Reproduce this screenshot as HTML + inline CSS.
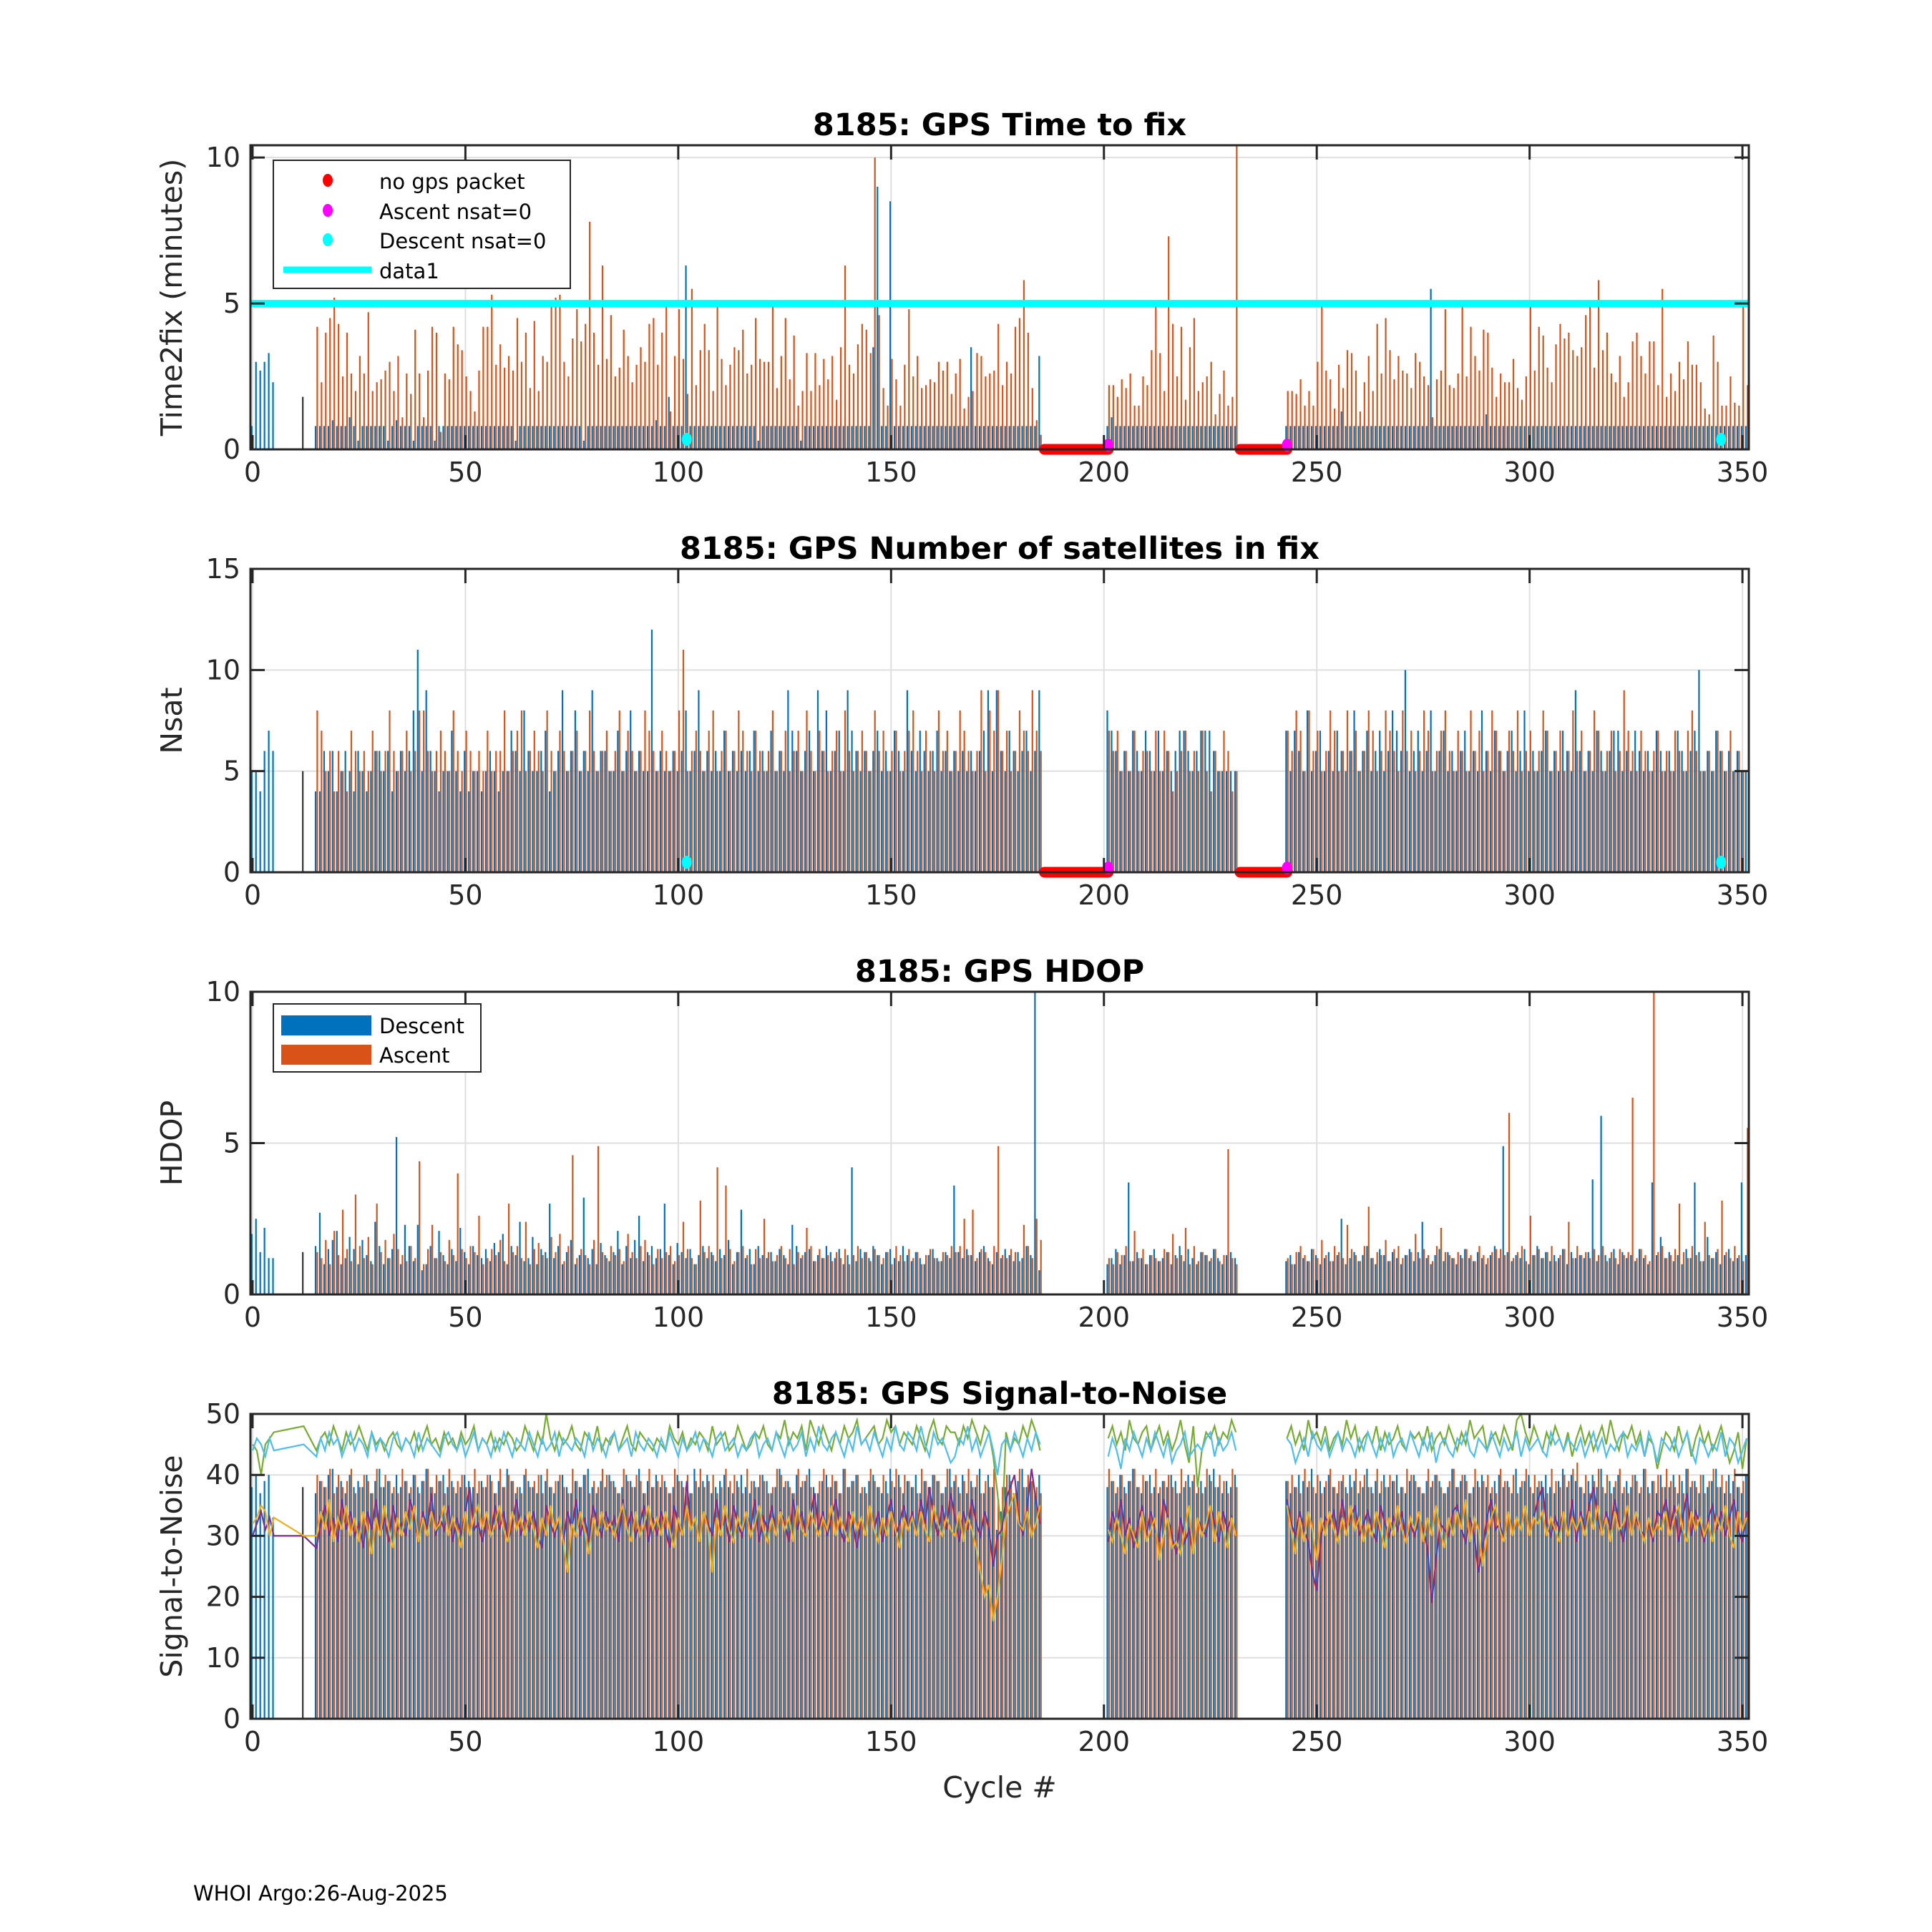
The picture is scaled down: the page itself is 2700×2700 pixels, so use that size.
<!DOCTYPE html>
<html><head><meta charset="utf-8"><style>
html,body{margin:0;padding:0;background:#fff;}
svg{display:block;font-family:"DejaVu Sans","Liberation Sans",sans-serif;}
</style></head><body>
<svg id="chart" width="2700" height="2700" viewBox="0 0 2700 2700" xmlns="http://www.w3.org/2000/svg"></svg>
<script>
// ---------- data ----------
const segments = [[0,5],[12,12],[15,185],[201,231],[243,351]];
const xTicks = [0,50,100,150,200,250,300,350];
const noPacketRanges = [[186,201],[232,243]];
const ascentNsat0 = [201,243];
const descentNsat0 = [102,345];
const t2fTicks = [0,5,10];
const nsatTicks = [0,5,10,15];
const hdopTicks = [0,5,10];
const snrTicks = [0,10,20,30,40,50];
const t2fThreshold = [5];

const t2fDesc = [0.8,3.0,2.7,3.0,3.3,2.3, 1.8,
.8,.8,.8,.8,1.0,.8,.8,.8,1.1,.8, .3,.8,.8,.8,.8,.8,.8,.3,.8,1.0, .8,.8,.8,.3,.8,.8,.8,.8,.3,.8, .8,.8,.8,.8,.8,.8,.8,.8,.8,.8,
.8,.8,.8,.8,.8,.8,.8,.3,.8,.8, .8,.8,.8,.8,.8,.8,.8,.8,.8,.8, .8,.8,.8,.3,.8,.8,.8,.8,.8,.8, .8,.8,.8,.8,.8,.8,.8,.8,.8,.8,
1.0,.8,.8,1.8,.8,.8,.8,6.3,.8,.8, .8,.8,.8,.8,.8,.8,.8,.8,.8,.8, .8,.8,.8,.8,.3,.8,.8,.8,.8,.8, .8,.8,.8,.8,.3,.8,.8,.8,.8,.8,
.8,.8,.8,.8,.8,.8,.8,.8,.8,.8, .8,3.5,9.0,.8,.8,8.5,.8,.8,.8,.8, .8,.8,.8,.8,.8,.8,.8,.8,.8,.8, .8,.8,.8,.8,3.5,.8,.8,.8,.8,.8, .8,.8,.8,.8,.8,.8,.8,.8,.8,.8,3.2,
.8,1.1,.8,.8,.8,.8,.8,.8,.8,.8, .8,.8,.8,.8,.8,.8,.8,.8,.8,.8, .8,.8,.8,.8,.8,.8,.8,.8,.8,.8,.8,
.8,.8,.8,.8,.8,.8,.8,.8,.8,.8, .8,.8,.8,1.3,.8,.8,.8,.8,.8,.8, .8,.8,.8,.8,.8,.8,.8,.8,.8,.8, .8,.8,.8,.8,5.5,.8,.8,.8,.8,.8,
.8,.8,.8,.8,.8,.8,.8,1.2,.8,.8, .8,.8,.8,.8,.8,.8,.8,.8,.8,.8, .8,.8,.8,.8,.8,.8,.8,.8,.8,.8, .8,.8,.8,.8,.8,.8,.8,.8,.8,.8,
.8,.8,.8,.8,.8,.8,.8,.8,.8,.8, .8,.8,.8,.8,.8,.8,.8,.8,.8, .8,.8,.8,.8,.8,.8,.8,.8,.8,.8];
const t2fAsc = [0,0,0,0,0,0, 0,
4.2,2.3,4.0,4.5,5.2,4.3,2.5,4.0,2.6,2.0, 3.2,2.6,4.7,2.0,2.3,2.4,2.7,3.0,2.0,3.2, 1.1,2.6,1.9,4.1,2.6,1.1,2.7,4.2,4.0,0.6, 2.6,2.4,4.2,3.6,3.4,2.5,2.0,1.3,2.7,4.2,
4.2,5.3,2.9,3.6,2.8,3.2,2.7,4.5,3.0,4.0, 2.1,4.4,2.0,3.2,3.0,4.9,5.2,5.3,3.0,2.5, 3.8,4.8,3.7,4.3,7.8,4.0,2.9,6.3,3.1,4.6, 2.5,2.8,4.1,3.2,2.3,2.9,3.5,3.0,4.3,4.5,
2.9,4.0,5.0,1.3,3.2,4.8,3.1,1.9,5.5,2.2, 3.4,4.3,3.4,2.0,5.0,3.1,2.2,2.9,3.5,3.4, 4.1,2.6,2.9,4.5,3.1,3.0,3.0,4.9,2.1,3.2, 4.5,2.4,3.9,1.5,2.0,3.3,2.0,3.3,2.2,3.1,
2.4,3.2,1.7,3.5,6.3,2.9,2.6,3.6,4.3,4.1, 3.3,10.0,4.6,2.1,1.5,3.1,2.4,1.5,2.9,4.8, 2.5,3.2,2.1,2.2,2.4,2.3,3.0,2.7,3.0,1.9, 2.6,3.1,1.4,1.8,2.0,3.3,3.2,2.5,2.6,2.7, 4.3,2.2,3.0,2.6,4.2,4.5,5.8,4.0,2.1,1.0,0.5,
2.2,2.2,1.8,2.4,2.1,2.6,1.5,1.5,2.5,2.2, 3.4,4.9,3.3,2.0,7.3,4.3,2.5,4.2,1.7,3.5, 4.5,2.0,2.3,2.5,3.0,1.2,1.9,2.7,1.5,1.8,10.4,
2.0,2.0,1.9,2.4,1.5,2.0,1.5,3.0,4.9,2.7, 2.4,1.4,2.9,2.1,3.4,3.3,2.7,1.3,2.3,3.2, 2.0,4.3,2.6,4.5,3.4,2.4,3.2,2.7,2.6,2.1, 3.3,3.0,2.5,2.2,1.1,2.4,2.7,4.8,2.2,2.1,
2.6,5.0,2.5,4.2,3.2,2.7,4.1,4.0,2.8,1.8, 2.6,2.3,2.3,3.1,2.1,1.7,2.5,5.0,2.7,4.2, 3.9,2.8,2.3,3.6,4.3,3.8,4.0,3.4,3.2,3.5, 4.6,5.1,2.8,5.8,3.4,4.0,2.6,2.3,3.2,1.8,
2.3,3.7,4.0,3.2,2.6,3.7,3.7,2.2,5.5,1.8, 2.6,2.0,3.0,2.4,3.7,2.9,2.9,2.3,1.4,1.2, 3.9,3.0,1.5,1.5,2.5,1.6,1.5,5.0,2.2];

const nsatDesc = [5,5,4,6,7,6, 5,
4,4,6,5,6,4,5,6,5,4, 6,5,4,5,6,6,5,6,4,5, 6,5,6,8,11,5,9,6,5,4, 5,5,7,5,4,6,4,5,5,4, 5,6,5,4,5,5,7,6,5,8,
6,5,5,6,7,4,5,6,9,5, 6,8,5,6,5,9,5,6,6,5, 5,7,5,6,8,5,6,5,5,12, 5,6,5,5,6,5,6,8,5,6, 9,5,6,5,6,5,7,5,6,5,
6,5,6,7,5,6,5,7,5,6, 5,9,7,6,5,6,7,5,9,6, 8,5,6,7,5,9,7,6,5,6, 5,6,7,5,6,5,7,6,5,9, 6,5,7,6,5,6,7,5,6,5, 6,5,6,5,6,5,6,7,9,5,9,
6,5,7,6,5,6,7,5,6,9,
8,7,6,5,6,5,7,6,5,7, 6,5,7,5,6,5,6,7,7,6, 5,6,7,7,7,6,5,5,5,5,5,
7,5,7,6,5,8,5,6,7,5, 6,5,7,6,5,6,8,5,6,7, 5,6,7,5,6,8,7,6,10,5, 6,7,5,6,8,5,6,7,5,6, 5,6,7,5,6,5,8,6,5,7,
6,5,6,7,5,6,8,5,6,5, 6,7,5,6,5,7,6,5,9,6, 5,6,5,7,6,5,6,7,7,5, 6,5,7,6,5,6,5,7,6,5, 6,5,7,6,5,6,7,10,5,
6,5,7,6,5,6,5,6,5,5];
const nsatAsc = [0,0,0,0,0,0, 0,
8,7,5,6,4,6,5,4,7,6, 5,6,5,7,6,5,6,8,6,5, 6,7,5,6,8,8,6,5,6,7, 6,5,8,6,5,7,6,5,6,5, 7,5,6,6,8,5,6,7,8,5,
6,7,6,5,8,6,5,7,6,5, 6,7,5,6,8,6,5,6,7,5, 6,8,5,7,6,5,6,8,7,6, 5,7,6,5,6,8,11,5,6,7, 6,5,7,8,5,6,7,5,6,8,
7,6,5,7,6,5,6,8,5,6, 7,5,6,7,5,8,6,5,7,6, 5,6,7,5,8,6,5,6,7,6, 5,8,6,7,5,6,7,5,6,7, 8,6,5,7,6,5,8,6,7,5, 6,8,7,6,5,6,9,5,8,7,9,
6,7,5,6,8,7,6,9,7,6,
7,6,7,5,6,5,7,5,6,6, 5,7,5,7,6,4,5,6,7,5, 6,5,7,5,4,6,5,7,6,4,5,
7,6,8,7,5,8,6,7,5,6, 8,7,5,6,8,6,7,5,6,8, 7,5,6,8,7,6,5,8,6,7, 5,6,8,7,5,6,7,8,6,5, 7,6,5,8,6,7,5,6,8,7,
6,5,7,6,8,5,6,7,5,6, 8,7,5,6,7,5,6,8,6,7, 5,6,8,7,5,6,7,5,6,9, 7,6,5,7,6,5,6,7,5,6, 5,7,6,5,7,8,6,5,5,
6,5,7,6,5,7,5,6,5];

const hdopDesc = [2.0,2.5,1.4,2.2,1.2,1.2, 1.4,
1.6,2.7,1.0,1.5,1.8,2.1,1.0,1.2,1.9,1.5, 1.0,1.8,1.3,1.1,2.4,1.6,1.0,1.2,1.5,5.2, 1.0,2.3,1.6,1.1,2.3,0.8,1.0,1.6,1.2,2.1, 1.3,1.0,1.5,1.1,2.2,1.4,1.0,1.6,1.3,1.2,
1.5,1.1,1.7,1.4,2.0,1.0,1.6,1.3,2.4,1.1, 1.2,1.9,1.0,1.5,1.4,3.0,1.2,1.6,1.0,1.4, 1.8,1.0,1.3,3.2,1.2,1.5,1.0,1.7,1.3,1.1, 1.4,2.1,1.0,1.6,1.2,1.8,2.6,1.1,1.4,1.6,
1.2,1.5,3.0,1.3,1.0,1.7,1.4,1.2,1.5,1.0, 1.3,1.6,1.2,1.4,1.1,1.5,1.3,1.8,1.0,1.4, 2.8,1.2,1.5,1.0,1.6,1.3,1.2,1.4,1.1,1.5, 1.3,1.0,2.3,1.6,1.2,1.4,1.5,1.1,1.3,1.2,
1.6,1.4,1.2,1.5,1.0,1.3,4.2,1.1,1.5,1.4, 1.2,1.6,1.3,1.0,1.4,1.5,1.2,1.1,1.6,1.3, 1.1,1.4,1.2,1.0,1.3,1.5,1.2,1.1,1.4,1.2,
3.6,1.4,1.2,1.5,1.3,1.1,1.4,1.6,1.2,1.0, 1.4,1.2,1.5,1.3,1.1,1.4,1.2,1.6,1.3,10.0,0.8,
1.0,1.2,1.5,1.0,1.3,3.7,1.1,1.4,1.2,1.0, 1.3,1.5,1.1,1.2,1.4,1.0,1.3,1.6,1.1,1.5, 1.2,1.0,1.4,1.3,1.1,1.5,1.2,1.0,1.3,1.4,1.2,
1.1,1.3,1.0,1.4,1.2,1.1,1.5,1.3,1.0,1.2, 1.4,1.1,1.3,2.5,1.0,1.2,1.4,1.1,1.3,1.6, 1.2,1.0,1.5,1.3,1.1,1.4,1.2,1.0,1.3,1.5, 1.1,1.4,2.4,1.2,1.0,1.3,1.5,1.1,1.4,1.2,
1.0,1.3,1.5,1.2,1.1,1.4,1.2,1.0,1.3,1.6, 1.2,4.9,1.4,1.1,1.3,1.2,1.5,1.0,1.3,1.6, 1.2,1.4,1.1,1.3,1.2,1.5,1.0,1.4,1.2,1.3,
1.2,1.4,3.8,1.1,5.9,1.3,1.2,1.5,1.0,1.4, 1.2,1.3,1.1,1.5,1.2,1.0,3.7,1.3,1.9,1.2, 1.4,1.1,1.3,1.0,1.5,1.2,3.7,1.4,1.1,1.9,
1.2,1.4,1.0,1.3,1.5,1.1,1.2,3.7,1.3,1.9];
const hdopAsc = [0,0,0,0,0,0, 0,
1.4,1.2,1.8,1.0,2.1,1.3,2.8,1.5,1.1,3.3, 1.6,1.2,1.9,1.0,3.0,1.4,1.8,1.2,2.0,1.5, 1.3,1.1,1.6,1.2,4.4,1.0,1.5,2.3,1.2,1.4, 1.1,1.8,1.3,4.0,1.5,1.2,1.6,1.4,2.6,1.0,
1.2,1.5,1.3,1.8,1.1,3.0,1.4,1.6,1.2,2.4, 1.0,1.5,1.7,1.3,1.2,1.9,1.4,2.0,1.1,1.6, 4.6,1.2,1.5,1.3,1.0,1.8,4.9,1.4,1.2,1.6, 1.3,1.5,1.1,2.0,1.4,1.2,1.6,1.8,1.3,1.0,
1.5,1.2,1.4,1.6,1.1,1.3,2.4,1.5,1.2,1.0, 3.1,1.4,1.6,1.3,4.2,1.2,3.6,1.5,1.1,1.4, 1.6,1.3,1.0,1.5,1.2,2.5,1.4,1.1,1.3,1.6, 1.2,1.5,1.0,1.4,1.3,2.2,1.6,1.1,1.5,1.2,
1.3,1.1,1.4,1.2,1.5,1.0,1.3,1.6,1.2,1.4, 1.1,1.5,1.3,1.2,1.4,1.0,1.6,1.3,1.1,1.5, 1.2,1.4,1.0,1.3,1.5,1.2,1.1,1.4,1.3,1.6,
1.4,1.6,2.5,1.3,2.8,1.2,1.5,1.4,1.1,1.6, 4.9,1.3,1.2,1.5,1.4,1.1,2.3,1.6,1.2,2.5,1.8,
1.2,1.0,1.4,1.3,1.6,1.1,2.1,1.2,1.5,1.0, 1.3,1.2,1.1,1.5,1.4,2.0,1.2,1.3,2.2,1.0, 1.6,1.1,1.4,1.3,1.2,1.5,1.1,1.3,4.8,1.2,1.0,
1.2,1.0,1.4,1.6,1.3,1.1,1.5,1.2,1.8,1.3, 1.1,1.6,1.4,1.2,2.3,1.5,1.3,1.1,1.6,2.9, 1.2,1.4,1.3,1.8,1.1,1.5,1.6,1.2,1.3,1.4, 2.0,1.2,1.5,1.3,1.1,1.6,2.2,1.4,1.3,1.2,
1.4,1.2,1.5,1.3,1.1,1.6,1.3,1.2,1.4,1.5, 1.5,1.3,6.0,1.2,1.4,1.6,1.1,2.6,1.3,1.5, 1.2,1.4,1.6,1.1,1.3,1.5,2.4,1.2,1.6,1.3,
1.4,1.2,1.5,1.3,1.6,1.1,1.4,1.2,1.5,1.3, 1.4,6.5,1.2,1.5,1.3,1.1,10.0,1.4,1.6,1.2, 1.3,1.5,3.0,1.4,1.2,1.6,1.3,1.1,2.4,1.3,
1.2,1.5,3.1,1.4,1.2,1.6,1.3,1.1,5.5];

const snrDesc = [38,40,37,39,40,33, 38,
37,39,38,40,41,38,39,37,40,38, 39,38,40,37,39,41,38,39,37,40, 38,39,37,40,38,39,41,38,37,39, 40,38,39,37,38,40,39,38,37,39,
38,40,37,39,38,41,39,37,38,40, 39,38,37,40,39,38,37,39,40,38, 37,39,38,40,41,38,37,39,38,40, 39,37,38,40,39,38,41,37,39,38,
40,38,39,37,38,40,39,38,37,41, 38,39,40,37,38,39,40,38,37,39, 40,38,37,39,38,40,39,37,38,41, 38,39,37,40,38,39,41,38,37,39,
40,38,39,37,41,38,39,40,37,38, 39,40,38,37,39,41,38,40,37,39, 38,40,37,39,38,40,39,37,38,41, 39,38,40,37,39,38,41,37,40,38,31,
34,38,40,37,39,41,38,39,37,40, 38,39,37,40,38,39,41,38,37,39, 40,38,37,39,38,40,39,37,38,40,39,
37,39,38,40,41,38,37,39,38,40, 39,37,38,40,39,38,41,37,39,38, 40,38,37,39,38,40,39,37,38,41, 38,39,37,40,38,39,40,38,37,39,
40,38,37,39,38,40,39,37,38,41, 38,39,40,37,38,39,40,38,37,39, 40,38,39,37,41,38,39,40,37,38, 39,40,38,37,39,41,38,40,39,38,
37,39,40,38,41,37,39,38,40,37, 39,38,40,37,41,38,39,37,40,38, 38,40,37,39,41,38,39,37,40,38, 39,41,38,37,40,39,38,37,40,39];
const snrAsc = [0,0,0,0,0,0, 0,
40,39,38,41,37,40,38,39,41,37, 38,40,39,37,41,38,40,39,38,37, 41,39,38,40,37,39,41,38,40,39, 37,41,38,39,40,38,37,41,39,38,
40,39,37,41,38,40,39,38,37,41, 38,39,40,37,41,38,39,40,38,37, 41,39,38,40,37,39,38,41,40,39, 38,37,41,39,38,40,39,37,41,38,
39,40,38,37,41,39,38,40,37,39, 41,38,39,40,37,38,41,39,40,38, 37,41,39,38,40,39,37,38,41,40, 39,38,37,41,39,40,38,37,39,41,
38,40,39,37,41,38,39,40,38,37, 41,39,38,40,37,39,41,38,40,39, 38,37,41,39,38,40,39,37,41,38, 40,37,39,41,38,40,37,39,38,41,36,
38,40,39,37,41,38,40,39,38,37, 41,39,38,40,37,39,41,38,40,39, 37,41,38,39,40,38,37,41,39,38,40,
38,37,41,39,38,40,39,37,41,38, 39,40,38,37,41,39,38,40,37,39, 41,38,39,40,37,38,41,39,40,38, 37,41,39,38,40,39,37,38,41,40,
39,38,37,41,39,40,38,37,39,41, 38,40,39,37,41,38,39,40,38,37, 41,39,38,40,37,39,41,38,40,39, 38,37,41,39,38,40,39,41,42,38,
40,37,39,41,38,40,37,39,41,38, 37,40,39,38,41,37,39,40,38,41, 39,38,40,37,41,39,38,40,37,39, 41,38,40,39,37,41,38,39,40,42];

const snrGreen = [45,44,40,45,46,47, 48,
44,46,47,45,48,46,44,47,45,46, 48,46,44,47,45,46,44,46,47,45, 44,46,45,47,44,46,48,45,46,44, 47,45,46,44,47,45,46,48,44,46,
45,47,44,46,45,47,46,44,45,48, 46,44,47,45,50,46,44,47,45,46, 48,45,44,47,46,45,48,44,46,45, 47,44,46,48,45,44,47,46,45,44,
46,45,44,48,46,45,47,44,46,45, 47,46,44,48,45,46,47,44,45,48, 46,44,45,47,46,48,45,44,47,46, 49,45,47,46,48,44,49,47,45,48,
46,44,47,45,48,46,47,49,45,46, 47,48,45,46,49,47,48,45,47,46, 45,48,46,44,47,49,46,45,48,47, 47,45,48,46,49,47,45,48,47,43,37,
30,47,44,46,45,48,46,49,47,44, 46,48,45,47,44,49,46,45,47,48, 44,46,48,45,47,44,46,49,45,42,48,
38,44,47,46,48,45,47,46,49,47, 46,48,45,47,44,49,46,47,45,48, 44,46,47,45,49,46,48,44,46,47, 45,48,44,47,45,46,48,45,44,47,
46,47,45,48,44,46,47,45,48,46, 44,47,45,49,46,47,48,44,46,47, 45,48,46,44,49,50,47,45,48,46, 44,47,45,48,46,44,47,43,46,48,
45,47,44,46,48,45,49,46,44,47, 46,48,45,47,43,46,45,41,44,47, 46,44,48,45,47,43,46,48,45,47, 44,46,48,45,42,44,47,41,46,45];
const snrBlue = [44,46,45,43,46,44, 45,
43,46,44,47,45,46,43,45,47,44, 46,45,43,47,44,46,45,43,46,47, 44,46,45,43,47,44,46,45,44,43, 46,47,45,44,46,43,45,47,44,46,
45,43,46,44,47,45,43,46,45,44, 47,45,43,46,44,45,47,43,46,45, 44,46,45,43,47,44,46,45,43,46, 47,44,45,46,43,47,45,44,46,45,
43,46,44,47,45,43,46,44,45,47, 44,46,45,43,46,47,44,45,46,43, 45,44,46,47,43,45,46,44,47,45, 43,46,44,45,47,43,46,44,48,45,
44,46,47,45,43,46,44,48,45,46, 44,47,45,43,46,44,48,45,44,47, 46,44,48,45,43,47,45,46,44,42, 43,46,45,48,44,46,43,45,47,44,40,
45,46,44,47,45,43,46,44,47,45, 43,46,44,41,46,44,47,45,43,46, 44,47,45,43,46,42,44,45,47,43,44,
45,44,46,47,43,46,44,45,47,44, 46,45,42,44,46,43,47,45,44,46, 43,45,47,44,46,45,43,46,44,47, 45,43,46,44,47,43,45,46,44,47,
45,43,46,44,47,42,45,46,44,43, 46,45,47,44,43,46,45,44,47,45, 43,46,44,45,47,43,46,44,45, 46,44,43,47,45,46,44,46,45,44,
46,43,45,47,44,46,43,45,44,46, 47,43,45,44,46,43,47,45,42,46,45, 44,46,43,45,47,44,42,46,45,43, 45,44,47,43,46,45,42,44,46,45];
const snrPurple = [30,32,34,31,33,30, 30,
28,32,35,30,33,29,36,31,34,30, 32,28,34,31,36,30,33,29,35,31, 32,30,36,33,29,34,31,37,30,33, 31,35,29,33,30,34,38,31,32,29,
33,30,35,31,34,29,32,36,30,33, 31,34,30,28,35,32,30,33,29,34, 31,36,30,33,29,35,32,30,34,31, 33,29,36,31,34,30,32,35,29,33,
30,34,31,28,35,32,30,39,31,33, 29,34,32,30,36,31,33,29,35,32, 30,34,31,36,29,33,31,35,30,34, 32,29,36,31,34,30,33,37,31,34,
30,33,36,31,29,34,32,28,33,30, 35,31,34,29,33,36,30,32,35,31, 34,30,36,32,38,33,30,35,31,37, 33,29,34,31,36,32,30,34,31,25,30,
31,36,38,40,33,30,35,41,36,32, 29,34,31,36,30,33,28,32,35,30, 34,31,29,36,33,30,27,33,29,31,27,
33,31,30,35,32,29,34,31,33,30, 36,32,30,34,31,29,24,21,30,33, 32,34,30,36,31,33,35,30,32,34, 31,29,35,32,30,33,31,34,29,32,
30,33,31,28,19,26,32,31,30,34, 35,31,29,33,30,24,28,33,36,31, 32,29,34,30,33,31,35,30,33,36, 38,32,30,33,31,34,30,36,29,34,
31,35,38,33,30,34,31,36,32,29, 34,30,33,31,30,32,29,34,33,36, 31,35,29,33,37,30,34,32,29,33, 35,31,34,30,33,36,31,29,34,33];
const snrYellow = [32,33,35,34,30,33, 30,
30,34,31,36,29,33,31,35,30,33, 29,34,31,27,33,30,35,31,28,33, 30,34,31,35,29,33,30,34,31,32, 35,30,33,31,28,34,30,33,35,31,
34,30,32,35,31,29,34,31,33,30, 34,31,28,33,30,35,31,33,29,24, 32,30,34,31,27,33,30,34,31,32, 30,33,35,31,29,34,30,32,35,31,
33,30,34,31,28,33,30,35,31,33, 29,34,31,24,33,30,35,31,29,33, 31,34,30,32,35,31,29,33,30,34, 31,33,29,35,31,30,34,32,30,33,
31,35,30,33,31,29,34,31,33,30, 35,31,29,33,30,34,31,28,33,31, 33,30,34,31,29,35,32,30,33,31, 30,34,29,33,31,28,24,20,22,16,20,
26,33,35,37,32,31,34,30,32,35, 31,29,33,30,27,32,30,28,34,29, 31,33,26,30,33,28,29,27,31,35,27,
33,30,32,35,29,34,31,28,33,30, 35,31,27,33,29,34,31,26,33,30, 34,31,29,33,30,35,31,33,29,32, 30,34,31,28,33,30,35,31,29,33,
31,34,29,33,30,35,31,28,33,30, 34,31,36,29,33,31,25,30,33,35, 31,29,34,30,33,31,35,30,33,32, 34,30,33,31,29,34,30,33,31,33,
30,34,31,35,30,33,29,34,31,32, 35,30,34,31,29,33,30,32,31,34, 30,33,35,31,29,34,31,33,30,32, 29,33,31,35,30,28,34,31,33,30];

// ---------- drawing ----------
const svg = document.getElementById('chart');
const NS = 'http://www.w3.org/2000/svg';
const X0 = 350, X1 = 2444, XMIN = -0.5, XMAX = 351.5;
function xs(v){ return X0 + (v - XMIN) / (XMAX - XMIN) * (X1 - X0); }
const cycles = [];
segments.forEach(s => { for (let c = s[0]; c <= s[1]; c++) cycles.push(c); });

function mk(tag, attrs, parent){
  const e = document.createElementNS(NS, tag);
  for (const k in attrs) e.setAttribute(k, attrs[k]);
  (parent || svg).appendChild(e);
  return e;
}
function txt(parent, x, y, s, size, opts){
  const t = mk('text', Object.assign({x:x, y:y, 'font-size':size, fill:'#262626'}, opts || {}), parent);
  t.textContent = s;
  return t;
}

function panel(cfg){
  const g = mk('g', {});
  
  
  const ys = v => cfg.bot - (v - 0) / cfg.ymax * (cfg.bot - cfg.top);
  const grid = mk('g', {}, g);
  
  
  xTicks.forEach(t => mk('line', {x1:xs(t), x2:xs(t), y1:cfg.top, y2:cfg.bot, stroke:'#dfdfdf', 'stroke-width':2}, grid));
  cfg.yticks.forEach(t => mk('line', {x1:X0, x2:X1, y1:ys(t), y2:ys(t), stroke:'#dfdfdf', 'stroke-width':2}, grid));
  const bars = mk('g', {}, g);
  
  
  cycles.forEach((c, i) => {
    const d = cfg.desc[i], a = cfg.asc[i];
    const dark = (c === 12);
    if (d != null && d > 0) {
      const r = mk('rect', {x:xs(c - 0.2) - 1.1, y:ys(d), width:2.2, height:ys(0) - ys(d), fill: dark ? '#333' : '#0072bd'}, bars);
      
      
    }
    if (a != null && a > 0) {
      const r = mk('rect', {x:xs(c + 0.2) - 1.1, y:ys(a), width:2.2, height:ys(0) - ys(a), fill:'#d95319'}, bars);
      
      
    }
  });
  if (cfg.lines) cfg.lines.forEach(L => {
    let d = '', prev = null;
    cycles.forEach((c, i) => {
      const v = L.vals[i];
      if (v == null) return;
      const cmd = (prev !== null && c - prev <= 7) ? 'L' : 'M';
      d += cmd + xs(c).toFixed(1) + ',' + ys(v).toFixed(1);
      prev = c;
    });
    const p = mk('path', {d:d, fill:'none', stroke:L.color, 'stroke-width':2.2}, g);
    
    
  });
  if (cfg.threshold) {
    const l = mk('line', {x1:X0, x2:X1, y1:ys(t2fThreshold[0]), y2:ys(t2fThreshold[0]), stroke:'#00ffff', 'stroke-width':10}, g);
    
    
  }
  if (cfg.markers) {
    noPacketRanges.forEach(r => {
      const l = mk('line', {x1:xs(r[0]), x2:xs(r[1]), y1:ys(0), y2:ys(0), stroke:'#ff0000', 'stroke-width':15, 'stroke-linecap':'round'}, g);
      
      
    });
    ascentNsat0.forEach(c => {
      const m = mk('ellipse', {cx:xs(c), cy:ys(0) - 6, rx:7, ry:9, fill:'#ff00ff'}, g);
      
      
    });
    descentNsat0.forEach(c => {
      const m = mk('ellipse', {cx:xs(c), cy:ys(0) - 14, rx:7, ry:9, fill:'#00ffff'}, g);
      
      
    });
  }
  const box = mk('rect', {x:X0, y:cfg.top, width:X1 - X0, height:cfg.bot - cfg.top, fill:'none', stroke:'#262626', 'stroke-width':3}, g);
  
  
  xTicks.forEach(t => {
    mk('line', {x1:xs(t), x2:xs(t), y1:cfg.bot, y2:cfg.bot - 20, stroke:'#262626', 'stroke-width':3}, g);
    mk('line', {x1:xs(t), x2:xs(t), y1:cfg.top, y2:cfg.top + 20, stroke:'#262626', 'stroke-width':3}, g);
    const l = txt(g, xs(t), cfg.bot + 45, String(t), 38, {'text-anchor':'middle'});
    
    
  });
  cfg.yticks.forEach(t => {
    mk('line', {x1:X0, x2:X0 + 20, y1:ys(t), y2:ys(t), stroke:'#262626', 'stroke-width':3}, g);
    mk('line', {x1:X1, x2:X1 - 20, y1:ys(t), y2:ys(t), stroke:'#262626', 'stroke-width':3}, g);
    const l = txt(g, X0 - 14, ys(t) + 13, String(t), 38, {'text-anchor':'end'});
    
    
  });
  const ti = txt(g, (X0 + X1) / 2, cfg.top - 14, cfg.title, 43, {'text-anchor':'middle', 'font-weight':'bold', fill:'#000'});
  
  
  const cy = (cfg.top + cfg.bot) / 2;
  const yl = txt(g, 0, 0, cfg.ylabel, 41, {'text-anchor':'middle', transform:'translate(254,' + cy + ') rotate(-90)'});
  
  
  return g;
}

panel({name:'time-to-fix-panel', top:203, bot:628, ymax:10.42, yticks:t2fTicks, desc:t2fDesc, asc:t2fAsc,
  title:'8185: GPS Time to fix', ylabel:'Time2fix (minutes)', threshold:true, markers:true});
panel({name:'nsat-panel', top:795, bot:1219, ymax:15, yticks:nsatTicks, desc:nsatDesc, asc:nsatAsc,
  title:'8185: GPS Number of satellites in fix', ylabel:'Nsat', markers:true});
panel({name:'hdop-panel', top:1386, bot:1809, ymax:10, yticks:hdopTicks, desc:hdopDesc, asc:hdopAsc,
  title:'8185: GPS HDOP', ylabel:'HDOP'});
panel({name:'snr-panel', top:1976, bot:2402, ymax:50, yticks:snrTicks, desc:snrDesc, asc:snrAsc,
  title:'8185: GPS Signal-to-Noise', ylabel:'Signal-to-Noise',
  lines:[{name:'snr-line-green', vals:snrGreen, color:'#77ac30'},{name:'snr-line-lightblue', vals:snrBlue, color:'#4dbeee'},
         {name:'snr-line-purple', vals:snrPurple, color:'#7e2f8e'},{name:'snr-line-yellow', vals:snrYellow, color:'#edb120'}]});

const lg1 = mk('g', {});


mk('rect', {x:382, y:224, width:415, height:179, fill:'#fff', stroke:'#262626', 'stroke-width':2}, lg1);
[['no gps packet','#ff0000',252],['Ascent nsat=0','#ff00ff',294],['Descent nsat=0','#00ffff',335]].forEach(e => {
  const en = mk('g', {}, lg1);
  
  
  mk('ellipse', {cx:458, cy:e[2], rx:7, ry:9, fill:e[1]}, en);
  txt(en, 530, e[2] + 12, e[0], 29, {fill:'#000'});
});
const en4 = mk('g', {}, lg1);


mk('line', {x1:396, x2:519, y1:377, y2:377, stroke:'#00ffff', 'stroke-width':9}, en4);
txt(en4, 530, 389, 'data1', 29, {fill:'#000'});

const lg3 = mk('g', {});


mk('rect', {x:382, y:1403, width:290, height:95, fill:'#fff', stroke:'#262626', 'stroke-width':2}, lg3);
[['Descent','#0072bd',1433],['Ascent','#d95319',1474]].forEach(e => {
  const en = mk('g', {}, lg3);
  
  
  mk('rect', {x:393, y:e[2] - 14, width:126, height:28, fill:e[1]}, en);
  txt(en, 530, e[2] + 11, e[0], 29, {fill:'#000'});
});

const xl = txt(svg, (X0 + X1) / 2, 2512, 'Cycle #', 41, {'text-anchor':'middle'});


const ft = txt(svg, 270, 2656, 'WHOI Argo:26-Aug-2025', 29, {fill:'#000'});


</script>
</body></html>
